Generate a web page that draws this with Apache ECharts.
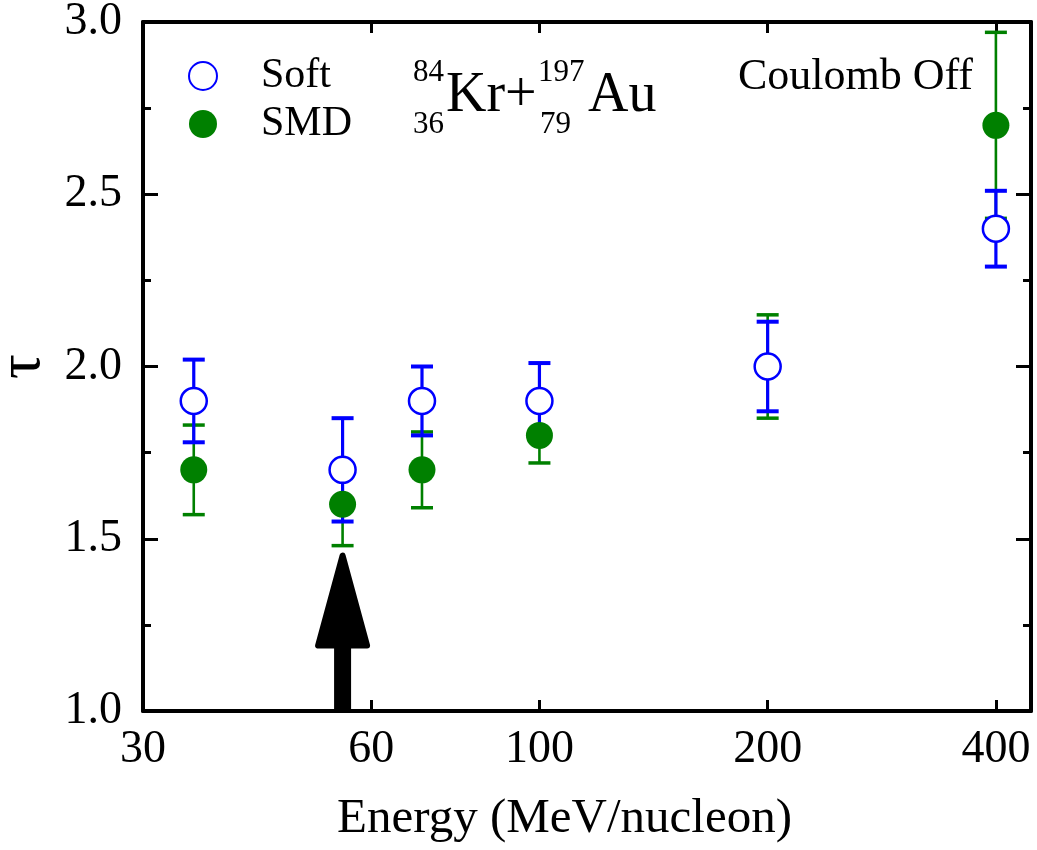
<!DOCTYPE html>
<html>
<head>
<meta charset="utf-8">
<title>Kr+Au tau vs energy</title>
<script src="https://cdn.jsdelivr.net/npm/echarts@6/dist/echarts.min.js"></script>
<style>
  html, body { margin: 0; padding: 0; background: #fff; }
  #chart { width: 1037px; height: 850px; }
</style>
</head>
<body>
<div id="chart"></div>
<script>
// Beam energies (MeV/nucleon) and the fitted exponent tau with its uncertainty
const energies = [35, 55, 70, 100, 200, 400];
const softTau = [1.90, 1.70, 1.90, 1.90, 2.00, 2.40];
const softErr = [0.12, 0.15, 0.10, 0.11, 0.13, 0.11];
const smdTau = [1.70, 1.60, 1.70, 1.80, 2.00, 2.70];
const smdErr = [0.13, 0.12, 0.11, 0.08, 0.15, 0.27];

// Axis ranges and tick labels
const xTickLabels = [30, 60, 100, 200, 400];
const xTickMarks = [60, 100, 200, 400];
const xRange = [30, 445];
const yRange = [1.0, 3.0];

// Arrow marking the energy of interest: energy, tail and tip in tau units
const arrowEnergy = [55];
const arrowTail = [1.0];
const arrowTip = [1.46];

const FONT = '"Liberation Serif", "Times New Roman", serif';
const BLUE = '#0000ff';
const GREEN = '#008000';

const lg = v => Math.log10(v);

const softPts = energies.map((e, i) => [lg(e), softTau[i]]);
const smdPts = energies.map((e, i) => [lg(e), smdTau[i]]);
const softBars = energies.map((e, i) => [lg(e), softTau[i] - softErr[i], softTau[i] + softErr[i]]);
const smdBars = energies.map((e, i) => [lg(e), smdTau[i] - smdErr[i], smdTau[i] + smdErr[i]]);
const arrowData = arrowEnergy.map((e, i) => [lg(e), arrowTail[i], arrowTip[i]]);

function errorBarRenderer(color, width, capWidth, capHalf) {
  return function (params, api) {
    const x = api.value(0);
    const lo = api.coord([x, api.value(1)]);
    const hi = api.coord([x, api.value(2)]);
    const st = { stroke: color, lineWidth: width, fill: null };
    const cap = { stroke: color, lineWidth: capWidth, fill: null };
    return {
      type: 'group',
      children: [
        { type: 'line', shape: { x1: hi[0], y1: hi[1], x2: lo[0], y2: lo[1] }, style: st },
        { type: 'line', shape: { x1: hi[0] - capHalf, y1: hi[1], x2: hi[0] + capHalf, y2: hi[1] }, style: cap },
        { type: 'line', shape: { x1: lo[0] - capHalf, y1: lo[1], x2: lo[0] + capHalf, y2: lo[1] }, style: cap }
      ]
    };
  };
}

function arrowRenderer(params, api) {
  const x = api.value(0);
  const tail = api.coord([x, api.value(1)]);
  const tip = api.coord([x, api.value(2)]);
  const headLen = 90, headHalf = 24.5, shaftHalf = 8.5, round = 6;
  const baseY = tip[1] + round / 2 + headLen;
  return {
    type: 'group',
    children: [
      {
        type: 'polygon',
        shape: { points: [[tip[0], tip[1] + round / 2], [tip[0] - headHalf, baseY], [tip[0] + headHalf, baseY]] },
        style: { fill: '#000', stroke: '#000', lineWidth: round, lineJoin: 'round' }
      },
      {
        type: 'rect',
        shape: { x: tip[0] - shaftHalf, y: baseY - 2, width: shaftHalf * 2, height: tail[1] - baseY + 2 },
        style: { fill: '#000' }
      }
    ]
  };
}

const chart = echarts.init(document.getElementById('chart'), null, { renderer: 'canvas' });

const axisLine = { show: true, lineStyle: { color: '#000', width: 4 } };
const xCommon = {
  type: 'value',
  min: lg(xRange[0]),
  max: lg(xRange[1]),
  axisLine: axisLine,
  splitLine: { show: false },
  axisTick: {
    show: true, inside: true, length: 11,
    lineStyle: { color: '#000', width: 3 },
    customValues: xTickMarks.map(lg)
  }
};
const yCommon = {
  type: 'value',
  min: yRange[0],
  max: yRange[1],
  interval: 0.5,
  axisLine: axisLine,
  splitLine: { show: false },
  axisTick: { show: true, inside: true, length: 15, lineStyle: { color: '#000', width: 3 } },
  minorTick: { show: true, splitNumber: 2, length: 8, lineStyle: { color: '#000', width: 3 } }
};

chart.setOption({
  animation: false,
  backgroundColor: '#fff',
  grid: { left: 143, right: 6, top: 22, bottom: 139, containLabel: false, outerBoundsMode: 'none' },
  legend: {
    orient: 'vertical',
    left: 183,
    top: 50,
    itemWidth: 28,
    itemHeight: 28,
    itemGap: 6,
    data: ['Soft', 'SMD'],
    textStyle: { fontFamily: FONT, fontSize: 42, color: '#000', padding: [0, 0, 0, 39] }
  },
  xAxis: [
    Object.assign({}, xCommon, {
      position: 'bottom',
      name: 'Energy (MeV/nucleon)',
      nameLocation: 'middle',
      nameGap: 84,
      nameTextStyle: { fontFamily: FONT, fontSize: 49, color: '#000', padding: [0, 45, 0, 0] },
      axisLabel: {
        show: true, margin: 16, fontFamily: FONT, fontSize: 46, color: '#000',
        customValues: xTickLabels.map(lg),
        formatter: v => String(Math.round(Math.pow(10, v)))
      }
    }),
    Object.assign({}, xCommon, { position: 'top', axisLabel: { show: false } })
  ],
  yAxis: [
    Object.assign({}, yCommon, {
      position: 'left',
      name: 'τ',
      nameLocation: 'middle',
      nameGap: 85,
      nameTextStyle: { fontFamily: FONT, fontSize: 62, color: '#000' },
      axisLabel: { show: true, margin: 21, fontFamily: FONT, fontSize: 46, color: '#000', formatter: v => v.toFixed(1) }
    }),
    Object.assign({}, yCommon, { position: 'right', axisLabel: { show: false } })
  ],
  graphic: [
    { type: 'text', style: { text: '84', x: 413, y: 73, font: '31px ' + FONT, fill: '#000', textVerticalAlign: 'middle' } },
    { type: 'text', style: { text: '36', x: 413, y: 125, font: '31px ' + FONT, fill: '#000', textVerticalAlign: 'middle' } },
    { type: 'text', style: { text: 'Kr+', x: 446, y: 96, font: '56px ' + FONT, fill: '#000', textVerticalAlign: 'middle' } },
    { type: 'text', style: { text: '197', x: 538, y: 73, font: '31px ' + FONT, fill: '#000', textVerticalAlign: 'middle' } },
    { type: 'text', style: { text: '79', x: 540, y: 125, font: '31px ' + FONT, fill: '#000', textVerticalAlign: 'middle' } },
    { type: 'text', style: { text: 'Au', x: 588, y: 96, font: '56px ' + FONT, fill: '#000', textVerticalAlign: 'middle' } },
    { type: 'text', style: { text: 'Coulomb Off', x: 973, y: 77, font: '44px ' + FONT, fill: '#000', textAlign: 'right', textVerticalAlign: 'middle' } }
  ],
  series: [
    {
      name: 'SMD errors', type: 'custom', xAxisIndex: 0, yAxisIndex: 0,
      renderItem: errorBarRenderer(GREEN, 2.6, 3.5, 11), data: smdBars, silent: true
    },
    {
      name: 'SMD', type: 'scatter', xAxisIndex: 0, yAxisIndex: 0,
      symbol: 'circle', symbolSize: 27, data: smdPts,
      itemStyle: { color: GREEN, opacity: 1 }
    },
    {
      name: 'Soft errors', type: 'custom', xAxisIndex: 0, yAxisIndex: 0,
      renderItem: errorBarRenderer(BLUE, 3.2, 4, 11), data: softBars, silent: true
    },
    {
      name: 'Soft', type: 'scatter', xAxisIndex: 0, yAxisIndex: 0,
      symbol: 'circle', symbolSize: 26, data: softPts,
      itemStyle: { color: '#fff', borderColor: BLUE, borderWidth: 2.5, opacity: 1 }
    },
    {
      name: 'arrow', type: 'custom', xAxisIndex: 0, yAxisIndex: 0,
      renderItem: arrowRenderer, data: arrowData, silent: true
    }
  ]
});
</script>
</body>
</html>
